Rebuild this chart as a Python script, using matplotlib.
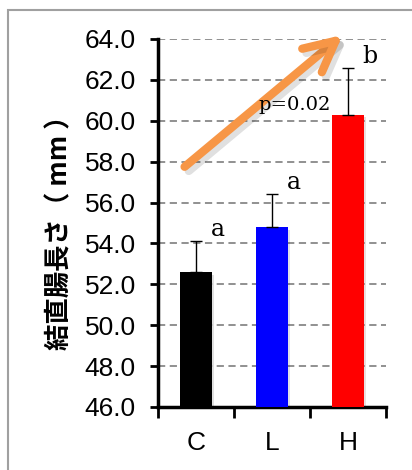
import matplotlib.pyplot as plt
import matplotlib.patheffects as pe
from matplotlib.patches import Rectangle

groups = ["C", "L", "H"]
means = [52.6, 54.8, 60.3]
sems = [1.5, 1.6, 2.3]
colors = ["#000000", "#0000ff", "#ff0000"]
letters = ["a", "a", "b"]

plt.rcParams['font.family'] = ['Liberation Sans', 'Noto Sans CJK JP']

fig = plt.figure(figsize=(4.12, 4.70), dpi=100)
fig.patches.append(Rectangle((8 / 412, -0.05), 420 / 412, 1.0 - 10 / 470 + 0.05,
                             transform=fig.transFigure, fill=False,
                             edgecolor="#a0a0a0", linewidth=1.5))
ax = fig.add_axes([158 / 412, 1 - 407 / 470, 228 / 412, 368 / 470])

x = range(len(groups))
bars = ax.bar(x, [m - 46.0 for m in means], bottom=46.0, width=0.41,
              color=colors, zorder=3)
for b in bars:
    b.set_path_effects([pe.SimplePatchShadow(offset=(2, -2), alpha=0.12), pe.Normal()])
ax.errorbar(x, means, yerr=[[0] * 3, sems], fmt="none", ecolor="black",
            elinewidth=1.0, capsize=4.5, capthick=1.0, zorder=4)

ax.set_xlim(-0.5, 2.5)
ax.set_ylim(46.0, 64.0)
ax.set_yticks([46 + 2 * i for i in range(10)])
ax.set_yticklabels(["%.1f" % (46 + 2 * i) for i in range(10)], fontsize=19)
ax.set_xticks(list(x))
ax.set_xticklabels(groups, fontsize=19)
ax.set_xticks([-0.5, 0.5, 1.5, 2.5], minor=True)
ax.tick_params(axis="x", which="major", length=0, pad=17)
ax.tick_params(axis="x", which="minor", length=8, width=2, direction="out")
ax.tick_params(axis="y", length=6, width=2, direction="out", pad=10)

for s in ["top", "right"]:
    ax.spines[s].set_visible(False)
for s in ["left", "bottom"]:
    ax.spines[s].set_linewidth(2.5)

ax.yaxis.grid(True, color="#888888", linestyle=(0, (4, 2.5)), linewidth=1.3, zorder=0)
ax.set_axisbelow(True)

ax.set_ylabel("結直腸長さ（ mm ）", fontsize=19, fontweight="bold",
              family=['Noto Sans CJK JP', 'DejaVu Sans'])
ax.yaxis.set_label_coords(-0.37, 0.49)

# significance letters above the error bars
for i, (m, s, t) in enumerate(zip(means, sems, letters)):
    ax.text(i + 0.19, m + s, t, family="DejaVu Serif", fontsize=17,
            ha="left", va="bottom", zorder=7)

ax.text(1.3, 60.75, "p=0.02", family="DejaVu Serif", fontsize=14,
        ha="center", va="center", zorder=7)

# trend arrow across the groups
ax.annotate("", xy=(1.93, 64.2), xytext=(-0.15, 57.75),
            arrowprops=dict(arrowstyle="->,head_length=1.1,head_width=0.55",
                            mutation_scale=20, color="#f79646", lw=6,
                            capstyle="round", joinstyle="round",
                            shrinkA=0, shrinkB=0,
                            path_effects=[pe.SimpleLineShadow(offset=(3, -3), alpha=0.12),
                                          pe.Normal()]),
            annotation_clip=False, zorder=6)

fig.savefig("out.png", dpi=100)
